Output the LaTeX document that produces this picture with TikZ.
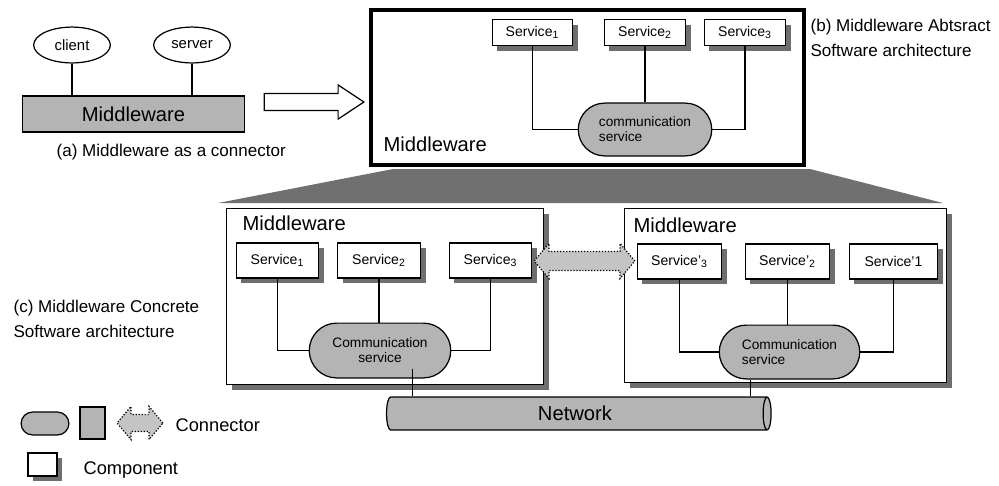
\documentclass[tikz,border=0pt]{standalone}
\usepackage{fontspec}
\setmainfont{Liberation Sans}
\usetikzlibrary{shapes.geometric,shapes.misc,shapes.arrows,calc}
\definecolor{capgray}{HTML}{B4B4B4}
\definecolor{fangray}{HTML}{707070}
\definecolor{shgray}{HTML}{6E6E6E}
\definecolor{lnkgray}{HTML}{C4C4C4}

\begin{document}
\begin{tikzpicture}[x=0.02cm,y=-0.02cm,line width=0.7pt,
    shad/.style={preaction={draw=none,fill=shgray,transform canvas={xshift=3pt,yshift=-3pt}}},
    svc/.style={draw,fill=white,inner sep=0pt,minimum height=26*\pu,font=\fontsize{8}{9}\selectfont,shad},
    ell/.style={draw,ellipse,inner sep=0pt,minimum width=77*\pu,minimum height=36*\pu,font=\fontsize{8.5}{10}\selectfont},
    combox/.style={draw,rounded rectangle,fill=capgray,inner sep=0pt,font=\fontsize{7.8}{8.5}\selectfont},
    mwframe/.style={draw,fill=white,inner sep=0pt,shad},
    lbl/.style={anchor=west,inner sep=0pt,font=\fontsize{11.5}{13}\selectfont},
    captxt/.style={anchor=west,inner sep=0pt,align=left,font=\fontsize{9.7}{14}\selectfont},
    lnk/.style={double arrow,draw,densely dotted,fill=lnkgray,inner xsep=0pt,double arrow tip angle=100}]
  % 1 像素
  \newcommand{\pu}{0.567pt}
  \useasboundingbox (0,0) rectangle (999,485);

  % (a) 连接器
  \node[ell] (client) at (72,45) {client};
  \node[ell] (server) at (192,45) {server};
  \node[draw,fill=capgray,minimum width=223*\pu,minimum height=36*\pu,font=\fontsize{11.5}{13}\selectfont] (mwA) at (133.5,114) {Middleware};
  \draw (client.south) -- (client.south |- mwA.north);
  \draw (server.south) -- (server.south |- mwA.north);
  \node[captxt] (capA) at (56,152) {(a) Middleware as a connector};

  % 空心箭头
  \node[single arrow,draw,fill=white,inner xsep=0pt,inner ysep=8*\pu,single arrow head extend=8.5*\pu,
        single arrow tip angle=67,minimum height=100*\pu] (toB) at ($(mwA.east)!0.5!(370,90)$) {};

  % (b) 抽象结构
  \node[draw,line width=4*\pu,minimum width=435*\pu,minimum height=155*\pu] (bigB) at (587.5,87.5) {};
  \node[svc,minimum width=81*\pu] (sB1) at (532.5,32.5) {Service\textsubscript{1}};
  \node[svc,minimum width=82*\pu] (sB2) at (645,32.5) {Service\textsubscript{2}};
  \node[svc,minimum width=82*\pu] (sB3) at (745,32.5) {Service\textsubscript{3}};
  \node[combox,align=left,minimum width=134*\pu,minimum height=53*\pu] (comB) at (645,129.5) {communication\\service};
  \draw (sB1.south) |- (comB.west);
  \draw (sB2.south) -- (sB2.south |- comB.north);
  \draw (sB3.south) |- (comB.east);
  \node[lbl] (mwB) at (383,144) {Middleware};
  \node[captxt] (capB) at (810,38) {(b) Middleware Abtsract\\Software architecture};

  % 扇形
  \fill[fangray] (218,203) -- (393,169) -- (810,169) -- (943,203) -- cycle;

  % (c) 具体结构
  \node[captxt] (capC) at (13,319) {(c) Middleware Concrete\\Software architecture};

  % 左侧
  \node[mwframe,minimum width=318*\pu,minimum height=177*\pu] (mwL) at (385,296.5) {};
  \node[lbl] (mwLt) at (242,223) {Middleware};
  \node[svc,minimum width=83*\pu,minimum height=35*\pu] (sL1) at (277.5,260.5) {Service\textsubscript{1}};
  \node[svc,minimum width=83*\pu,minimum height=35*\pu] (sL2) at (379,260.5) {Service\textsubscript{2}};
  \node[svc,minimum width=83*\pu,minimum height=35*\pu] (sL3) at (490.5,260.5) {Service\textsubscript{3}};
  \node[combox,align=center,minimum width=142*\pu,minimum height=55*\pu] (comL) at (380,350.5) {Communication\\service};
  \draw (sL1.south) |- (comL.west);
  \draw (sL2.south) -- (sL2.south |- comL.north);
  \draw (sL3.south) |- (comL.east);

  % 右侧
  \node[mwframe,minimum width=323*\pu,minimum height=175*\pu] (mwR) at (785.5,295.5) {};
  \node[lbl] (mwRt) at (633,225) {Middleware};
  \node[svc,minimum width=85*\pu,minimum height=35*\pu] (sR3) at (679.5,261.5) {Service'\textsubscript{3}};
  \node[svc,minimum width=85*\pu,minimum height=35*\pu] (sR2) at (787.5,261.5) {Service'\textsubscript{2}};
  \node[svc,minimum width=89*\pu,minimum height=35*\pu] (sR1) at (893.5,261.5) {Service'1};
  \node[combox,align=left,minimum width=141*\pu,minimum height=54*\pu] (comR) at (789.5,352) {Communication\\service};
  \draw (sR3.south) |- (comR.west);
  \draw (sR2.south) -- (sR2.south |- comR.north);
  \draw (sR1.south) |- (comR.east);

  % 双向箭头
  \node[lnk,inner ysep=9*\pu,double arrow head extend=8*\pu,minimum height=101*\pu] (link) at ($(sL3.east)!0.5!(sR3.west)$) {};

  % 网络
  \node[cylinder,draw,fill=capgray,shape aspect=0.3,minimum width=33*\pu,minimum height=386*\pu,
        font=\fontsize{11.5}{13}\selectfont] (net) at (575,413.5) {Network};
  \draw ([xshift=33*\pu,yshift=10*\pu]comL.south) -- ([xshift=33*\pu]comL.south |- net.north);
  \draw ([xshift=-39.5*\pu]comR.south) -- ([xshift=-39.5*\pu]comR.south |- net.north);

  % 图例
  \node[combox,minimum width=48*\pu,minimum height=23*\pu] (legCap) at (45,423.5) {};
  \node[draw,fill=capgray,minimum width=25*\pu,minimum height=32*\pu] (legRect) at (92.5,423) {};
  \node[lnk,inner ysep=8*\pu,double arrow head extend=8*\pu,minimum height=46*\pu] (legArr) at (140,423) {};
  \node[anchor=west,inner sep=0pt,font=\fontsize{10.4}{12}\selectfont] (legConn) at (175,425) {Connector};
  \node[svc,minimum width=29*\pu,minimum height=23*\pu] (legComp) at (42.5,464.5) {};
  \node[anchor=west,inner sep=0pt,font=\fontsize{10.4}{12}\selectfont] (legCompT) at (83,470) {Component};
\end{tikzpicture}
\end{document}
